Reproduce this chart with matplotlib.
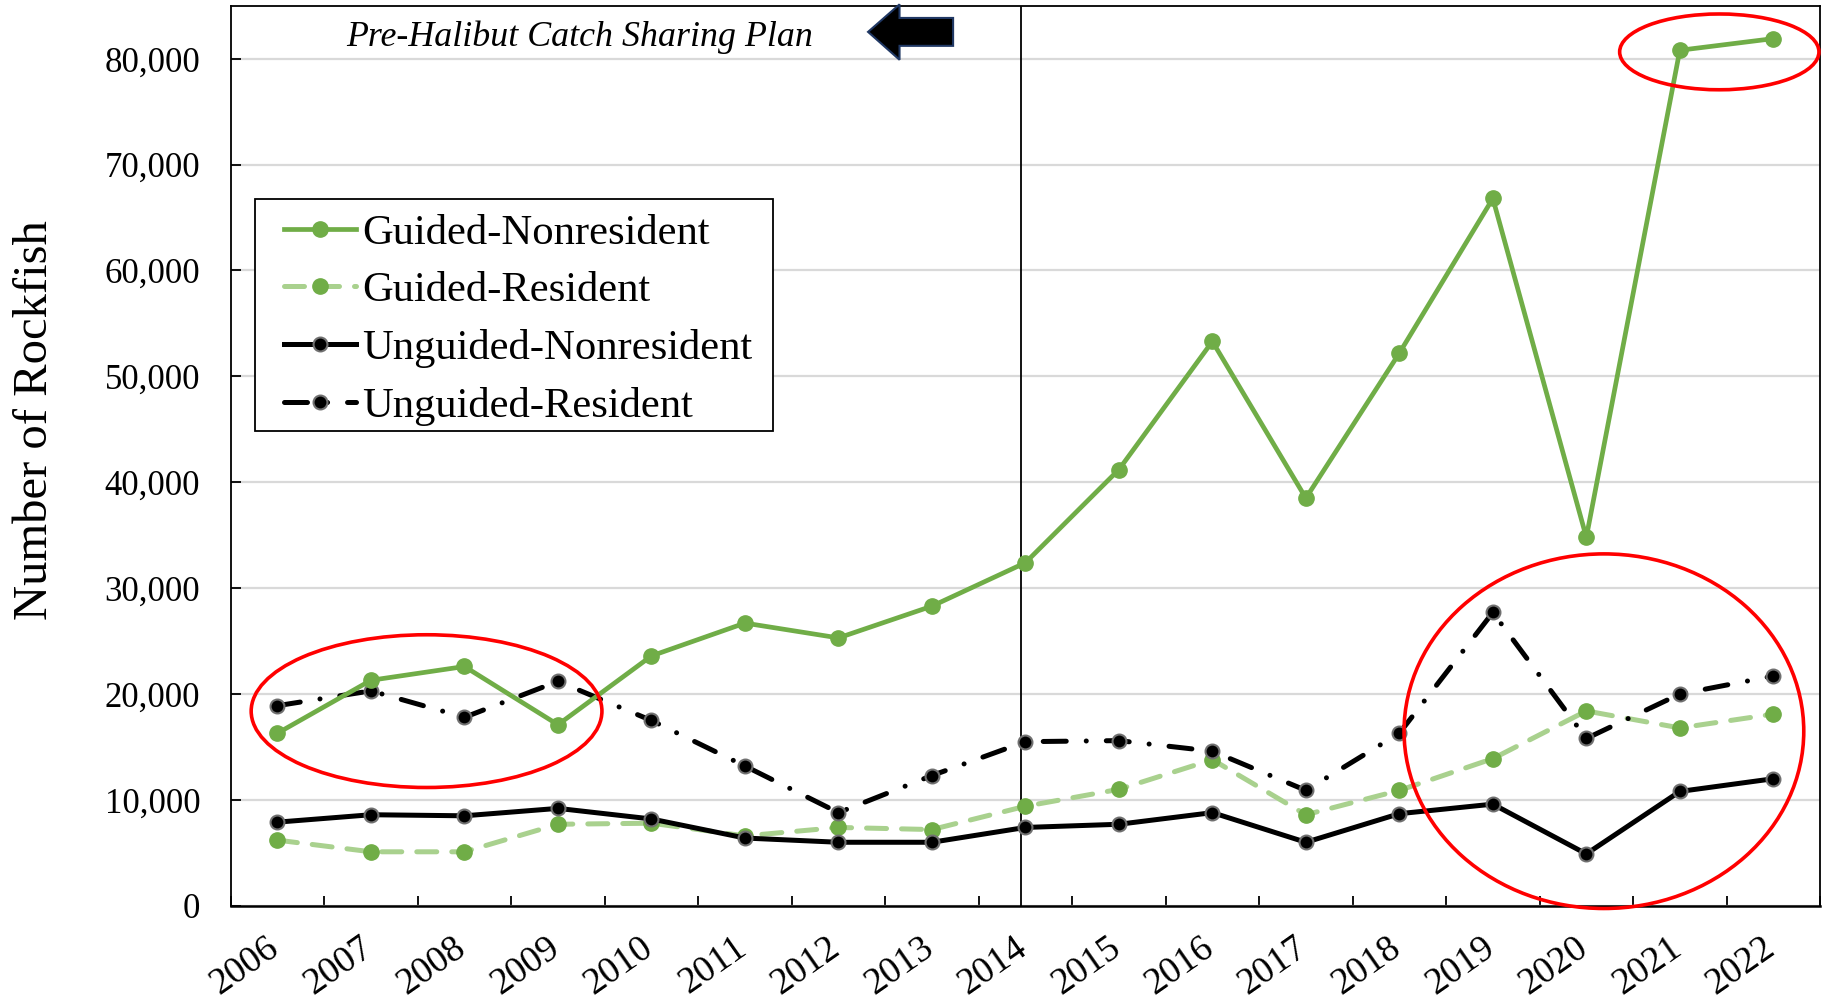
import matplotlib
matplotlib.use("Agg")
import matplotlib.pyplot as plt
import numpy as np
from matplotlib.patches import Ellipse, Polygon, Rectangle
from matplotlib.transforms import ScaledTranslation
from matplotlib.ticker import FuncFormatter, FixedLocator, NullFormatter

plt.rcParams['font.family'] = ['Liberation Serif', 'DejaVu Serif']

years = [2006, 2007, 2008, 2009, 2010, 2011, 2012, 2013, 2014,
         2015, 2016, 2017, 2018, 2019, 2020, 2021, 2022]
guided_nonres = [16300, 21300, 22600, 17100, 23600, 26700, 25300, 28300, 32400,
                 41200, 53300, 38500, 52200, 66800, 34800, 80800, 81900]
guided_res = [6200, 5100, 5100, 7700, 7800, 6600, 7400, 7200, 9400,
              11000, 13800, 8600, 10900, 13900, 18400, 16800, 18100]
unguided_nonres = [7900, 8600, 8500, 9200, 8200, 6400, 6000, 6000, 7400,
                   7700, 8800, 6000, 8700, 9600, 4900, 10800, 12000]
unguided_res = [18900, 20300, 17800, 21200, 17500, 13200, 8800, 12300, 15500,
                15600, 14600, 10900, 16300, 27700, 15800, 20000, 21700]
series_labels = ["Guided-Nonresident", "Guided-Resident",
                 "Unguided-Nonresident", "Unguided-Resident"]
ylabel = "Number of Rockfish"
annot_text = "Pre-Halibut Catch Sharing Plan"
divider_year = 2014

fig = plt.figure(figsize=(18.27, 9.99), dpi=100)
ax = fig.add_axes([0.1263, 0.0933, 0.9962 - 0.1263, 0.9942 - 0.0933])

x = np.arange(len(years))
green = '#70ad47'
lgreen = '#a9d18e'

ax.plot(x, guided_nonres, color=green, lw=3.4, marker='o', ms=11,
        mfc=green, mec=green, label=series_labels[0], zorder=5)
ax.plot(x, guided_res, color=lgreen, lw=3.6, marker='o', ms=11,
        mfc=green, mec=green, label=series_labels[1], zorder=3,
        dashes=(4, 3), dash_capstyle='round')
ax.plot(x, unguided_nonres, color='black', lw=3.6, marker='o', ms=10,
        mfc='black', mec='#707070', mew=1.5, label=series_labels[2], zorder=4)
ax.plot(x, unguided_res, color='black', lw=3.6, marker='o', ms=10,
        mfc='black', mec='#707070', mew=1.5, label=series_labels[3], zorder=4,
        dashes=(4.6, 4, 0.01, 4), dash_capstyle='round')

ax.set_xlim(-0.5, len(years) - 0.5)
ax.set_ylim(0, 85000)
ax.yaxis.set_major_locator(FixedLocator(np.arange(0, 80001, 10000)))
ax.yaxis.set_major_formatter(FuncFormatter(lambda v, p: f"{int(v):,}"))
ax.grid(axis='y', color='#d9d9d9', lw=1.6, zorder=0)
ax.set_axisbelow(True)

ax.xaxis.set_major_locator(FixedLocator(np.arange(-0.5, len(years), 1.0)))
ax.xaxis.set_major_formatter(NullFormatter())
ax.xaxis.set_minor_locator(FixedLocator(x))
ax.set_xticks(x, [str(y) for y in years], minor=True)
ax.tick_params(axis='x', which='major', direction='in', length=7, width=1.3)
ax.tick_params(axis='x', which='minor', length=0, pad=17.5, labelsize=27)
ax.tick_params(axis='y', which='major', direction='in', length=7, width=1.3,
               labelsize=25, pad=22)
for lab in ax.get_xticklabels(minor=True):
    lab.set_rotation(35)
    lab.set_ha('right')
    lab.set_va('top')
    lab.set_transform(lab.get_transform() + ScaledTranslation(0.08, 0, fig.dpi_scale_trans))

for s in ax.spines.values():
    s.set_color('black')
    s.set_linewidth(1.3)
ax.spines['bottom'].set_linewidth(1.8)

ax.axvline(years.index(divider_year) - 0.05, color='black', lw=1.3, zorder=2)

fig.text(35 / 1827, 0.58, ylabel, rotation=90, ha='center', va='center', fontsize=35)

ax.text(0.2192, 0.965, annot_text, transform=ax.transAxes, ha='center', va='center',
        fontsize=25.8, style='italic')

# block arrow pointing left
arr = Polygon([(0.401, 0.971), (0.4208, 1.0016), (0.4208, 0.9865), (0.4545, 0.9865),
               (0.4545, 0.9555), (0.4208, 0.9555), (0.4208, 0.940)],
              closed=True, transform=ax.transAxes, facecolor='black',
              edgecolor='#203864', lw=1.5, clip_on=False, zorder=6)
ax.add_patch(arr)

for (cx, cy, w, h) in [(0.1232, 0.2163, 0.2207, 0.1697),
                       (0.864, 0.194, 0.2515, 0.394),
                       (0.9366, 0.9488, 0.1254, 0.0842)]:
    ax.add_patch(Ellipse((cx, cy), w, h, transform=ax.transAxes, fill=False,
                         edgecolor='#ff0000', lw=2.6, clip_on=False, zorder=7))

# legend box
ax.add_patch(Rectangle((0.0154, 0.5274), 0.341 - 0.0154, 0.7851 - 0.5274,
                       transform=ax.transAxes, facecolor='white', edgecolor='black',
                       lw=1.3, zorder=8))
leg = ax.legend(loc='upper left', bbox_to_anchor=(0.0337, 0.769), fontsize=30.7,
                frameon=False, handlelength=1.67, handletextpad=0.16,
                labelspacing=0.44, borderpad=0, borderaxespad=0)
leg.set_zorder(9)

fig.savefig('out.png', dpi=100)
